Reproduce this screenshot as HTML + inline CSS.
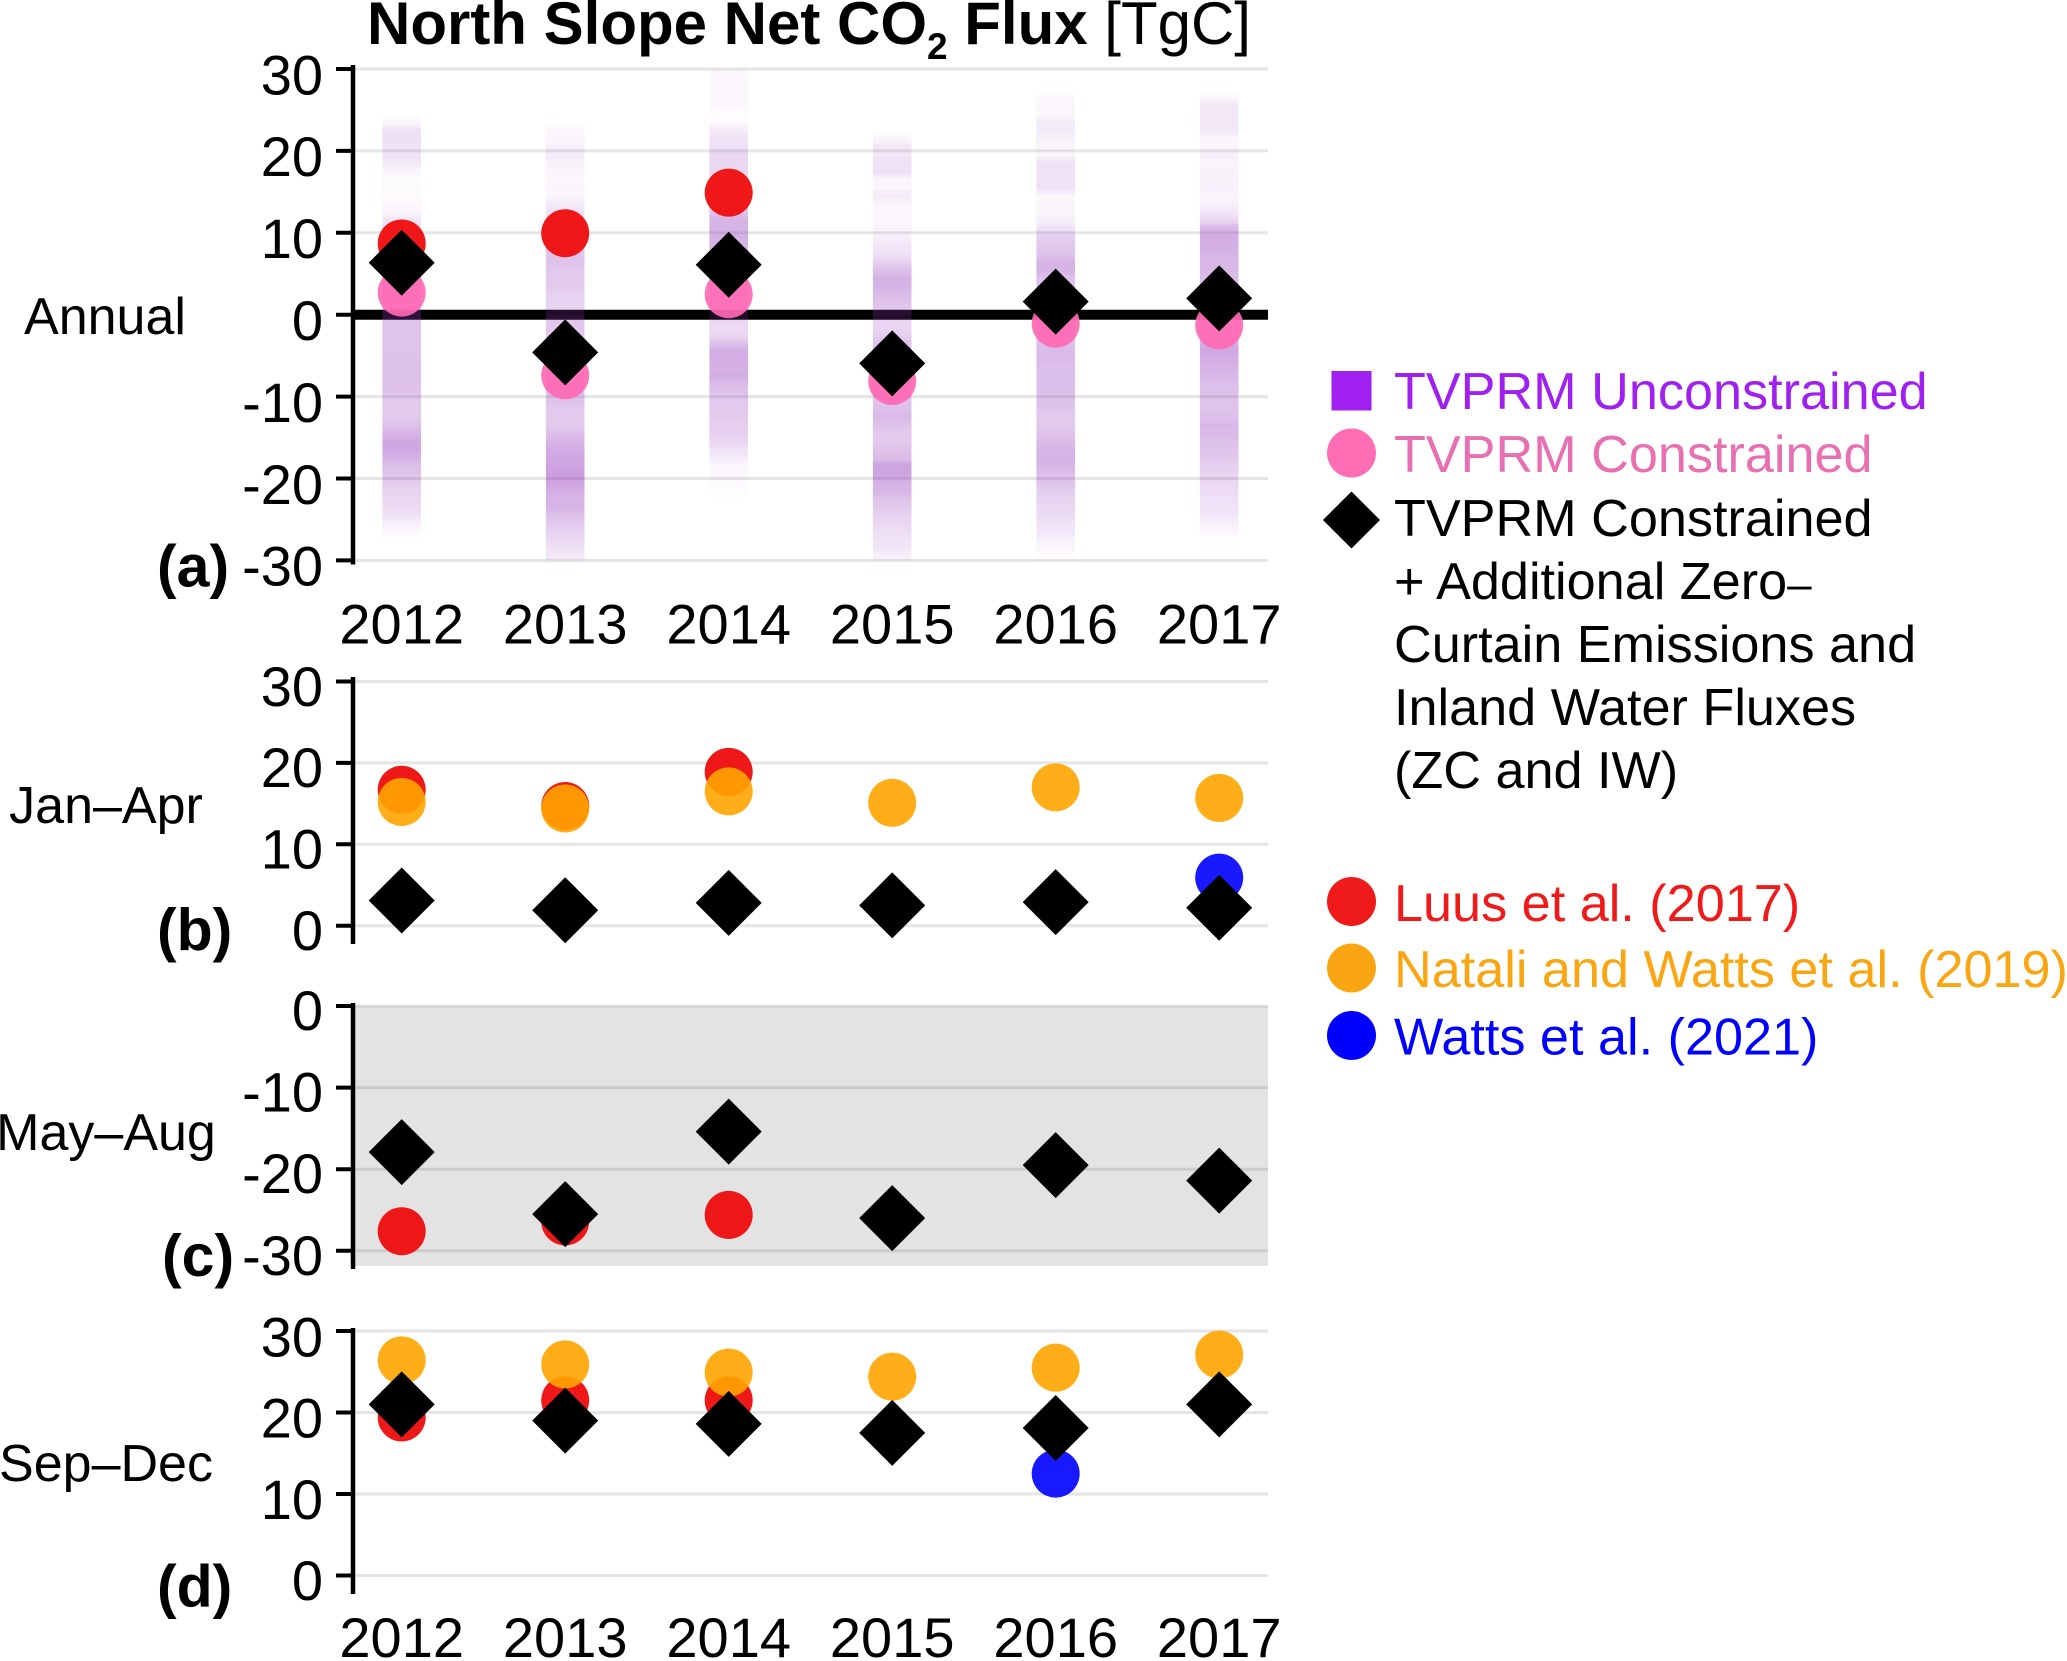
<!DOCTYPE html>
<html lang="en">
<head>
<meta charset="utf-8">
<title>North Slope Net CO2 Flux</title>
<style>
html,body{margin:0;padding:0;background:#fff;}
svg{display:block;font-family:"Liberation Sans",Arial,sans-serif;}
</style>
</head>
<body>
<svg id="chart" xmlns="http://www.w3.org/2000/svg" width="2067" height="1661" viewBox="0 0 2067 1661">
  <defs>
    <filter id="soft-bands" x="-5%" y="-5%" width="110%" height="110%">
      <feGaussianBlur stdDeviation="0 2"/>
    </filter>
  </defs>
  <rect x="0" y="0" width="2067" height="1661" fill="#fff"/>
  <text x="367" y="44" font-size="60" fill="#000"><tspan font-weight="bold">North Slope Net CO</tspan><tspan font-weight="bold" font-size="37" dy="15">2</tspan><tspan font-weight="bold" dy="-15"> Flux</tspan><tspan> [TgC]</tspan></text>

  <g id="plots"></g>

  <g font-size="52.2">
    <g>
      <rect x="1331.5" y="371" width="40" height="39.5" fill="#a020f0"/>
      <text x="1394" y="409" fill="#a020f0">TVPRM Unconstrained</text>
    </g>
    <g>
      <circle cx="1351.5" cy="453" r="24.5" fill="#ff6eb4"/>
      <text x="1394" y="472" fill="#e86fb2">TVPRM Constrained</text>
    </g>
    <g>
      <polygon points="1323,520 1351.5,491.5 1380,520 1351.5,548.5" fill="#000"/>
      <text fill="#000">
        <tspan x="1394" y="536">TVPRM Constrained</tspan>
        <tspan x="1394" y="599">+ Additional Zero<tspan font-size="44">–</tspan></tspan>
        <tspan x="1394" y="662">Curtain Emissions and</tspan>
        <tspan x="1394" y="725">Inland Water Fluxes</tspan>
        <tspan x="1394" y="788">(ZC and IW)</tspan>
      </text>
    </g>
    <g>
      <circle cx="1351.5" cy="901.5" r="24.5" fill="#ef1b1b"/>
      <text x="1394" y="921" fill="#ef1b1b">Luus et al. (2017)</text>
    </g>
    <g>
      <circle cx="1351.5" cy="968" r="24.5" fill="#f9a612"/>
      <text x="1394" y="987" fill="#f9a612">Natali and Watts et al. (2019)</text>
    </g>
    <g>
      <circle cx="1351.5" cy="1035.5" r="24.5" fill="#0000ff"/>
      <text x="1394" y="1054.5" fill="#0000ff">Watts et al. (2021)</text>
    </g>
  </g>
</svg>

<script>
// ---------- data (TgC) ----------
const years = [2012, 2013, 2014, 2015, 2016, 2017];

const annualTicks = [30, 20, 10, 0, -10, -20, -30];
const janAprTicks = [30, 20, 10, 0];
const mayAugTicks = [0, -10, -20, -30];
const sepDecTicks = [30, 20, 10, 0];

const annualLuus = [8.7, 9.95, 14.9, null, null, null];
const annualConstrained = [2.7, -7.4, 2.5, -8.1, -1.1, -1.3];
const annualZcIw = [6.35, -4.6, 6.1, -5.95, 1.6, 2.0];

const janAprLuus = [16.7, 14.7, 18.9, null, null, null];
const janAprNatali = [15.2, 14.4, 16.5, 15.1, 17.0, 15.7];
const janAprWatts = [null, null, null, null, null, 5.9];
const janAprZcIw = [3.1, 1.9, 2.8, 2.5, 2.9, 2.2];

const mayAugLuus = [-27.6, -26.4, -25.6, null, null, null];
const mayAugZcIw = [-17.9, -25.5, -15.4, -26.0, -19.5, -21.4];

const sepDecLuus = [19.4, 21.5, 21.5, null, null, null];
const sepDecNatali = [26.4, 25.9, 24.9, 24.4, 25.5, 27.1];
const sepDecWatts = [null, null, null, null, 12.5, null];
const sepDecZcIw = [21.0, 19.0, 18.6, 17.5, 18.1, 21.0];

// Unconstrained ensemble density per 1 TgC bin, top bin (30 to 29) to bottom bin (-29 to -30)
const density2012 = [0,0,0,0,0,0,.05,.14,.17,.14,.14,.1,.05,.02,.02,.02,.03,.06,.12,.2,.25,.3,.3,.3,.3,.3,.3,.3,.3,.3,
  .3,.3,.3,.3,.3,.32,.32,.32,.32,.3,.28,.27,.28,.32,.38,.45,.45,.4,.33,.3,.27,.22,.2,.18,.14,.08,.03,0,0,0];
const density2013 = [0,0,0,0,0,0,0,.03,.06,.08,.1,.07,.06,.05,.04,.05,.1,.14,.18,.2,.25,.3,.3,.3,.28,.27,.27,.24,.22,.22,
  .28,.28,.28,.28,.28,.3,.3,.3,.3,.3,.3,.28,.27,.27,.33,.38,.43,.45,.48,.5,.47,.42,.38,.38,.32,.28,.22,.2,.14,.12];
const density2014 = [.03,.03,.03,.03,.03,.01,.02,.1,.14,.16,.2,.2,.2,.2,.22,.22,.25,.3,.38,.4,.4,.38,.36,.33,.3,.3,.28,.25,.22,.2,
  .2,.18,.2,.32,.42,.42,.4,.42,.35,.3,.28,.27,.27,.25,.25,.2,.15,.1,.03,.03,.02,.01,0,0,0,0,0,0,0,0];
const density2015 = [0,0,0,0,0,0,0,0,.06,.12,.12,.14,.16,.05,.04,.1,.06,.05,.05,.06,.08,.12,.15,.22,.32,.4,.4,.35,.3,.28,
  .22,.2,.25,.3,.3,.3,.3,.3,.3,.3,.3,.33,.35,.3,.27,.27,.3,.35,.48,.46,.4,.38,.3,.27,.24,.2,.17,.15,.12,.08];
const density2016 = [0,0,0,.03,.03,.05,.1,.1,.08,.06,.06,.14,.14,.14,.14,.04,.04,.06,.08,.15,.25,.28,.3,.38,.4,.32,.3,.28,.3,.3,
  .3,.3,.3,.33,.35,.35,.33,.33,.33,.33,.32,.3,.27,.27,.3,.35,.38,.4,.38,.33,.3,.26,.22,.2,.18,.15,.12,.08,.03,.01];
const density2017 = [0,0,0,.03,.12,.13,.13,.13,.05,.05,.08,.06,.08,.07,.08,.06,.08,.12,.2,.38,.42,.42,.38,.36,.36,.34,.32,.32,.32,.32,
  .32,.32,.35,.42,.45,.42,.38,.36,.33,.32,.3,.3,.33,.36,.35,.33,.3,.28,.24,.22,.2,.18,.16,.14,.12,.08,.03,.01,0,0];

// ---------- layout and axis functions ----------
const svgNS = 'http://www.w3.org/2000/svg';
const plots = document.getElementById('plots');
const plotLeft = 355;
const plotRight = 1268;
const axisX = 353;

function xPos(i) { return 401.7 + i * 163.5; }
function yAnnual(v) { return 314.7 - v * 8.19; }
function yJanApr(v) { return 925.7 - v * 8.14; }
function yMayAug(v) { return 1006 - v * 8.16; }
function ySepDec(v) { return 1575.5 - v * 8.15; }

function make(tag, attrs, parent) {
  const el = document.createElementNS(svgNS, tag);
  for (const k in attrs) el.setAttribute(k, attrs[k]);
  parent.appendChild(el);
  return el;
}

function drawAxis(panel, ticks, yFn, axisTop, axisBottom, labelFn) {
  const g = make('g', {}, plots);
  
  
  ticks.forEach(function (t) {
    const grid = make('line', {x1: plotLeft, x2: plotRight, y1: yFn(t), y2: yFn(t), stroke: 'rgba(0,0,0,0.1)', 'stroke-width': 3}, g);
    
    
    const tick = make('line', {x1: 336, x2: axisX, y1: yFn(t), y2: yFn(t), stroke: '#000', 'stroke-width': 4}, g);
    
    
    const label = make('text', {x: 323, y: labelFn(t), 'text-anchor': 'end', 'font-size': 56, fill: '#000'}, g);
    
    
    label.textContent = String(t);
  });
  const line = make('line', {x1: axisX, x2: axisX, y1: axisTop, y2: axisBottom, stroke: '#000', 'stroke-width': 4.5}, g);
  
  
}

function drawYearLabels(panel, baseline) {
  const g = make('g', {}, plots);
  
  
  years.forEach(function (yr, i) {
    const t = make('text', {x: xPos(i), y: baseline, 'text-anchor': 'middle', 'font-size': 56, fill: '#000'}, g);
    
    
    t.textContent = String(yr);
  });
}

function drawCircles(panel, series, values, yFn, color, alpha) {
  const g = make('g', {}, plots);
  
  
  values.forEach(function (v, i) {
    if (v === null) return;
    const c = make('circle', {cx: xPos(i), cy: yFn(v), r: 24, fill: color, 'fill-opacity': alpha}, g);
    
    
  });
}

function drawDiamonds(panel, values, yFn) {
  const g = make('g', {}, plots);
  
  
  values.forEach(function (v, i) {
    const x = xPos(i), y = yFn(v), s = 33;
    const d = make('polygon', {points: (x - s) + ',' + y + ' ' + x + ',' + (y - s) + ' ' + (x + s) + ',' + y + ' ' + x + ',' + (y + s), fill: '#000'}, g);
    
    
  });
}

function drawStrip(values, i) {
  const g = make('g', {filter: 'url(#soft-bands)'}, plots);
  
  
  values.forEach(function (d, b) {
    if (!d) return;
    const top = yAnnual(30 - b), bottom = yAnnual(29 - b);
    const r = make('rect', {x: xPos(i) - 19.3, y: top, width: 38.6, height: bottom - top + 0.02, fill: '#963cbe', 'fill-opacity': d}, g);
    
    
  });
}

function drawText(name, str, x, y, size, weight, anchor) {
  const t = make('text', {x: x, y: y, 'font-size': size, 'font-weight': weight, 'text-anchor': anchor, fill: '#000'}, plots);
  
  
  t.textContent = str;
}

const pink = '#ff69b4', red = '#ee1111', orange = '#ffa500', blue = '#0000ff';

// ---------- panel (a) annual ----------
drawAxis('annual', annualTicks, yAnnual, 65, 564.5, function (t) { return 340 - t * 8.19; });
const zeroLine = make('line', {x1: plotLeft, x2: plotRight, y1: yAnnual(0), y2: yAnnual(0), stroke: '#000', 'stroke-width': 10}, plots);


[density2012, density2013, density2014, density2015, density2016, density2017].forEach(drawStrip);
drawCircles('annual', 'luus', annualLuus, yAnnual, red, 0.97);
drawCircles('annual', 'constrained', annualConstrained, yAnnual, pink, 0.92);
drawDiamonds('annual', annualZcIw, yAnnual);
drawYearLabels('annual', 643.5);
drawText('annual-row-label', 'Annual', 105, 334, 52, 'normal', 'middle');
drawText('panel-a-label', '(a)', 157, 586.5, 59, 'bold', 'start');

// ---------- panel (b) Jan-Apr ----------
drawAxis('jan-apr', janAprTicks, yJanApr, 677, 944, function (t) { return 950 - t * 8.14; });
drawCircles('jan-apr', 'luus', janAprLuus, yJanApr, red, 0.97);
drawCircles('jan-apr', 'natali-watts', janAprNatali, yJanApr, orange, 0.9);
drawCircles('jan-apr', 'watts', janAprWatts, yJanApr, blue, 0.9);
drawDiamonds('jan-apr', janAprZcIw, yJanApr);
drawText('jan-apr-row-label', 'Jan–Apr', 106, 823, 52, 'normal', 'middle');
drawText('panel-b-label', '(b)', 157, 950, 59, 'bold', 'start');

// ---------- panel (c) May-Aug ----------
const shade = make('rect', {x: plotLeft, y: yMayAug(0), width: plotRight - plotLeft, height: 260, fill: '#e3e3e3'}, plots);


drawAxis('may-aug', mayAugTicks, yMayAug, 1003, 1269, function (t) { return 1030 - t * 8.16; });
drawCircles('may-aug', 'luus', mayAugLuus, yMayAug, red, 0.97);
drawDiamonds('may-aug', mayAugZcIw, yMayAug);
drawText('may-aug-row-label', 'May–Aug', 106, 1150, 52, 'normal', 'middle');
drawText('panel-c-label', '(c)', 162, 1276, 59, 'bold', 'start');

// ---------- panel (d) Sep-Dec ----------
drawAxis('sep-dec', sepDecTicks, ySepDec, 1328, 1594, function (t) { return 1600 - t * 8.12; });
drawCircles('sep-dec', 'luus', sepDecLuus, ySepDec, red, 0.97);
drawCircles('sep-dec', 'natali-watts', sepDecNatali, ySepDec, orange, 0.9);
drawCircles('sep-dec', 'watts', sepDecWatts, ySepDec, blue, 0.9);
drawDiamonds('sep-dec', sepDecZcIw, ySepDec);
drawYearLabels('sep-dec', 1657);
drawText('sep-dec-row-label', 'Sep–Dec', 106, 1481, 52, 'normal', 'middle');
drawText('panel-d-label', '(d)', 157, 1606.5, 59, 'bold', 'start');
</script>
</body>
</html>
